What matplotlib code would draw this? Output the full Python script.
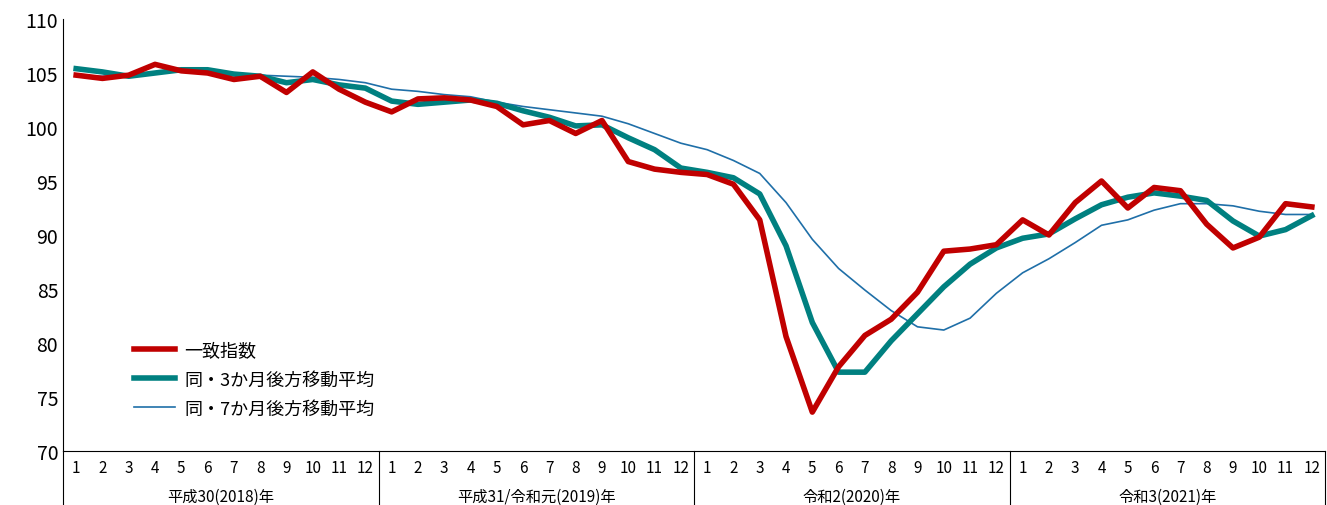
import matplotlib
matplotlib.use('Agg')
import matplotlib.pyplot as plt
import numpy as np

plt.rcParams['font.family'] = ['Noto Sans CJK JP', 'DejaVu Sans']

# --- データ ---
years = ["平成30(2018)年", "平成31/令和元(2019)年", "令和2(2020)年", "令和3(2021)年"]
months = [str(m) for m in range(1, 13)]
icchi = [104.8, 104.5, 104.8, 105.8, 105.2, 105.0, 104.4, 104.7, 103.2, 105.1, 103.5, 102.3,
         101.4, 102.6, 102.7, 102.5, 101.9, 100.2, 100.6, 99.4, 100.6, 96.8, 96.1, 95.8,
         95.6, 94.7, 91.4, 80.6, 73.6, 77.8, 80.7, 82.2, 84.7, 88.5, 88.7, 89.1,
         91.4, 90.0, 93.0, 95.0, 92.5, 94.4, 94.1, 91.0, 88.8, 89.8, 92.9, 92.6]
ma3 = [105.4, 105.1, 104.7, 105.0, 105.3, 105.3, 104.9, 104.7, 104.1, 104.4, 103.9, 103.6,
       102.4, 102.1, 102.3, 102.5, 102.2, 101.5, 100.9, 100.1, 100.2, 99.0, 97.9, 96.2,
       95.8, 95.3, 93.8, 89.0, 81.9, 77.3, 77.3, 80.2, 82.7, 85.2, 87.3, 88.8,
       89.7, 90.1, 91.5, 92.8, 93.5, 93.9, 93.6, 93.2, 91.3, 89.9, 90.5, 91.8]
ma7 = [104.7, 104.7, 104.8, 105.0, 105.2, 105.2, 105.0, 104.8, 104.7, 104.6, 104.4, 104.1,
       103.5, 103.3, 103.0, 102.8, 102.3, 101.9, 101.6, 101.3, 101.0, 100.3, 99.4, 98.5,
       97.9, 96.9, 95.7, 93.0, 89.6, 86.9, 84.9, 83.0, 81.5, 81.2, 82.3, 84.6,
       86.5, 87.8, 89.3, 90.9, 91.4, 92.3, 92.9, 92.9, 92.7, 92.2, 91.9, 91.9]

x = np.arange(len(icchi))

fig = plt.figure(figsize=(13.27, 5.06), dpi=100)
ax = fig.add_axes([63 / 1327, 54 / 506, 1262 / 1327, 432 / 506])
ax.plot(x, icchi, color="#C00000", lw=4, label="一致指数", zorder=3)
ax.plot(x, ma3, color="#008080", lw=4, label="同・3か月後方移動平均", zorder=2)
ax.plot(x, ma7, color="#1F6FA8", lw=1.2, label="同・7か月後方移動平均", zorder=1)

ax.set_xlim(-0.5, len(x) - 0.5)
ax.set_ylim(70, 110)
ax.set_yticks(range(70, 111, 5))
ax.tick_params(axis='y', labelsize=14, length=0)
ax.set_xticks(x)
ax.set_xticklabels(months * 4, fontsize=11)
ax.tick_params(axis='x', length=0, pad=6)
for s in ["top", "right"]:
    ax.spines[s].set_visible(False)

# 年の区切り線とラベル
for i in range(5):
    ax.plot([i * 12 - 0.5] * 2, [0, -0.13], transform=ax.get_xaxis_transform(),
            color="black", lw=0.8, clip_on=False)
for i, y in enumerate(years):
    ax.text(i * 12 + 5.5, -0.105, y, transform=ax.get_xaxis_transform(),
            ha="center", va="center", fontsize=11)

ax.legend(loc="lower left", bbox_to_anchor=(0.043, 0.04), frameon=False,
          fontsize=13, handlelength=2.3, handletextpad=0.5, labelspacing=0.6)

fig.savefig("out.png", dpi=100)
